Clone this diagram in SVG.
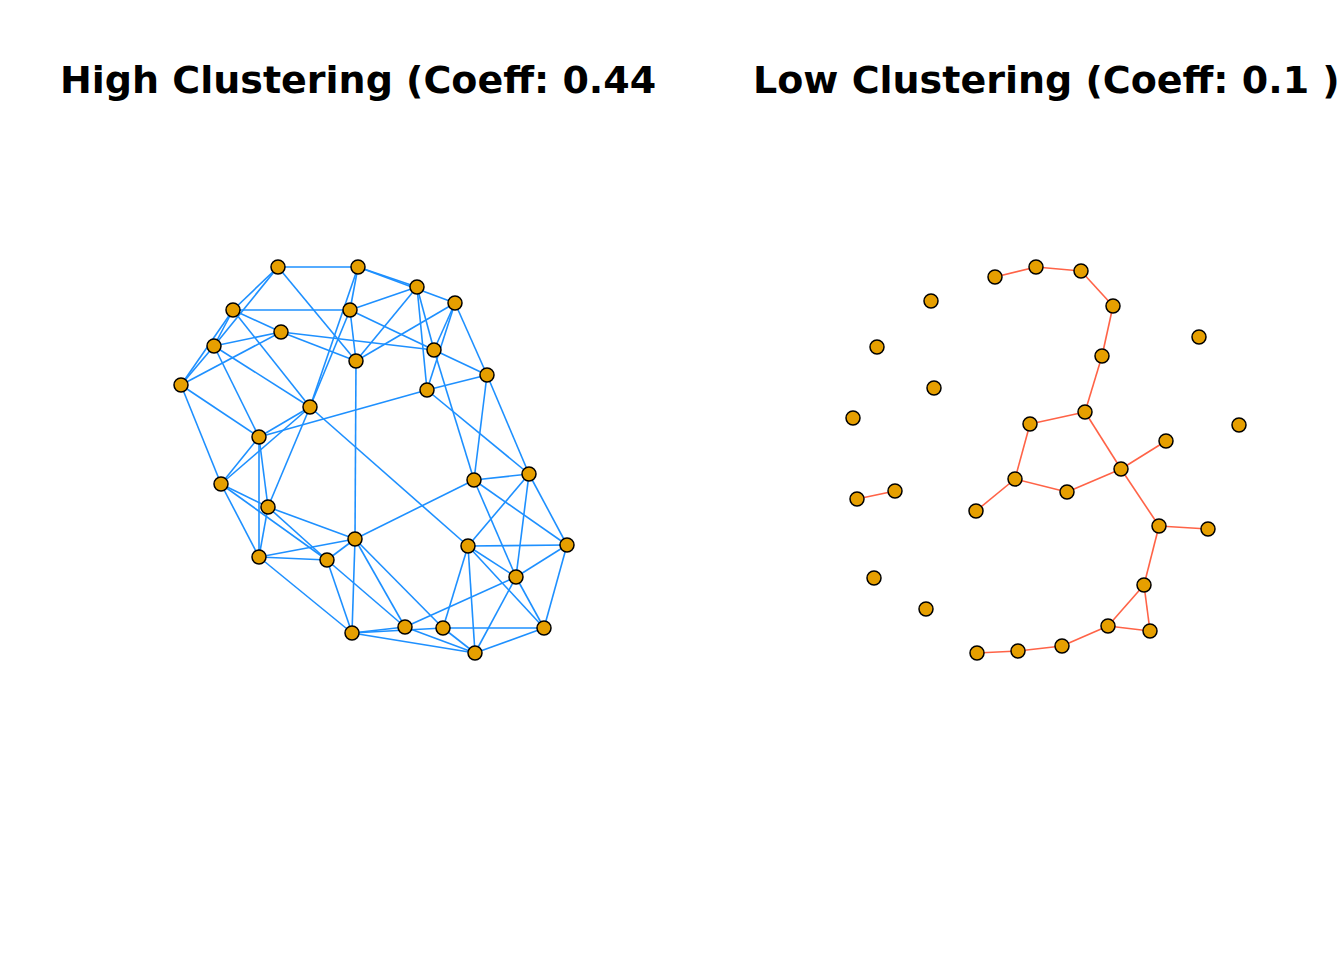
<svg xmlns="http://www.w3.org/2000/svg" width="1344" height="960" viewBox="0 0 1344 960">
<style>
.t{font-family:"DejaVu Sans",sans-serif;font-weight:bold;font-size:38px;fill:#000}
.eb line{stroke:#1E90FF;stroke-width:1.6}
.er line{stroke:#FF6347;stroke-width:1.6}
.n{fill:#E69F00;stroke:#000;stroke-width:1.5}
</style>
<rect width="1344" height="960" fill="#fff"/>
<text class="t" x="60" y="93">High Clustering (Coeff: 0.44</text>
<text class="t" x="753" y="93">Low Clustering (Coeff: 0.1 )</text>
<g id="connectors-high" class="eb">
<line x1="278" y1="267" x2="358" y2="267"/>
<line x1="278" y1="267" x2="233" y2="310"/>
<line x1="278" y1="267" x2="214" y2="346"/>
<line x1="278" y1="267" x2="356" y2="361"/>
<line x1="358" y1="267" x2="417" y2="287"/>
<line x1="358" y1="267" x2="455" y2="303"/>
<line x1="358" y1="267" x2="350" y2="310"/>
<line x1="358" y1="267" x2="310" y2="407"/>
<line x1="417" y1="287" x2="350" y2="310"/>
<line x1="417" y1="287" x2="356" y2="361"/>
<line x1="417" y1="287" x2="434" y2="350"/>
<line x1="417" y1="287" x2="427" y2="390"/>
<line x1="455" y1="303" x2="356" y2="361"/>
<line x1="455" y1="303" x2="434" y2="350"/>
<line x1="455" y1="303" x2="427" y2="390"/>
<line x1="455" y1="303" x2="487" y2="375"/>
<line x1="233" y1="310" x2="350" y2="310"/>
<line x1="233" y1="310" x2="281" y2="332"/>
<line x1="233" y1="310" x2="214" y2="346"/>
<line x1="233" y1="310" x2="181" y2="385"/>
<line x1="233" y1="310" x2="310" y2="407"/>
<line x1="350" y1="310" x2="356" y2="361"/>
<line x1="350" y1="310" x2="310" y2="407"/>
<line x1="350" y1="310" x2="434" y2="350"/>
<line x1="281" y1="332" x2="214" y2="346"/>
<line x1="281" y1="332" x2="181" y2="385"/>
<line x1="281" y1="332" x2="434" y2="350"/>
<line x1="281" y1="332" x2="356" y2="361"/>
<line x1="214" y1="346" x2="181" y2="385"/>
<line x1="214" y1="346" x2="310" y2="407"/>
<line x1="214" y1="346" x2="259" y2="437"/>
<line x1="434" y1="350" x2="487" y2="375"/>
<line x1="434" y1="350" x2="474" y2="480"/>
<line x1="356" y1="361" x2="355" y2="539"/>
<line x1="181" y1="385" x2="259" y2="437"/>
<line x1="181" y1="385" x2="221" y2="484"/>
<line x1="487" y1="375" x2="427" y2="390"/>
<line x1="487" y1="375" x2="474" y2="480"/>
<line x1="487" y1="375" x2="529" y2="474"/>
<line x1="427" y1="390" x2="259" y2="437"/>
<line x1="427" y1="390" x2="529" y2="474"/>
<line x1="310" y1="407" x2="259" y2="437"/>
<line x1="310" y1="407" x2="221" y2="484"/>
<line x1="310" y1="407" x2="268" y2="507"/>
<line x1="310" y1="407" x2="468" y2="546"/>
<line x1="259" y1="437" x2="221" y2="484"/>
<line x1="259" y1="437" x2="268" y2="507"/>
<line x1="259" y1="437" x2="259" y2="557"/>
<line x1="474" y1="480" x2="355" y2="539"/>
<line x1="474" y1="480" x2="529" y2="474"/>
<line x1="474" y1="480" x2="516" y2="577"/>
<line x1="474" y1="480" x2="567" y2="545"/>
<line x1="529" y1="474" x2="468" y2="546"/>
<line x1="529" y1="474" x2="516" y2="577"/>
<line x1="529" y1="474" x2="567" y2="545"/>
<line x1="221" y1="484" x2="268" y2="507"/>
<line x1="221" y1="484" x2="259" y2="557"/>
<line x1="221" y1="484" x2="327" y2="560"/>
<line x1="268" y1="507" x2="355" y2="539"/>
<line x1="268" y1="507" x2="259" y2="557"/>
<line x1="268" y1="507" x2="327" y2="560"/>
<line x1="355" y1="539" x2="259" y2="557"/>
<line x1="355" y1="539" x2="327" y2="560"/>
<line x1="355" y1="539" x2="352" y2="633"/>
<line x1="355" y1="539" x2="405" y2="627"/>
<line x1="355" y1="539" x2="443" y2="628"/>
<line x1="259" y1="557" x2="327" y2="560"/>
<line x1="259" y1="557" x2="352" y2="633"/>
<line x1="327" y1="560" x2="352" y2="633"/>
<line x1="327" y1="560" x2="405" y2="627"/>
<line x1="468" y1="546" x2="567" y2="545"/>
<line x1="468" y1="546" x2="516" y2="577"/>
<line x1="468" y1="546" x2="443" y2="628"/>
<line x1="468" y1="546" x2="544" y2="628"/>
<line x1="468" y1="546" x2="475" y2="653"/>
<line x1="567" y1="545" x2="516" y2="577"/>
<line x1="567" y1="545" x2="544" y2="628"/>
<line x1="516" y1="577" x2="405" y2="627"/>
<line x1="516" y1="577" x2="544" y2="628"/>
<line x1="516" y1="577" x2="475" y2="653"/>
<line x1="352" y1="633" x2="405" y2="627"/>
<line x1="352" y1="633" x2="443" y2="628"/>
<line x1="352" y1="633" x2="475" y2="653"/>
<line x1="405" y1="627" x2="475" y2="653"/>
<line x1="443" y1="628" x2="475" y2="653"/>
<line x1="443" y1="628" x2="544" y2="628"/>
<line x1="544" y1="628" x2="475" y2="653"/>
</g>
<g id="connectors-low" class="er">
<line x1="995" y1="277" x2="1036" y2="267"/>
<line x1="1036" y1="267" x2="1081" y2="271"/>
<line x1="1081" y1="271" x2="1113" y2="306"/>
<line x1="1113" y1="306" x2="1102" y2="356"/>
<line x1="1102" y1="356" x2="1085" y2="412"/>
<line x1="1085" y1="412" x2="1030" y2="424"/>
<line x1="1085" y1="412" x2="1121" y2="469"/>
<line x1="1030" y1="424" x2="1015" y2="479"/>
<line x1="1015" y1="479" x2="1067" y2="492"/>
<line x1="1015" y1="479" x2="976" y2="511"/>
<line x1="1067" y1="492" x2="1121" y2="469"/>
<line x1="1121" y1="469" x2="1166" y2="441"/>
<line x1="1121" y1="469" x2="1159" y2="526"/>
<line x1="1159" y1="526" x2="1208" y2="529"/>
<line x1="1159" y1="526" x2="1144" y2="585"/>
<line x1="1144" y1="585" x2="1108" y2="626"/>
<line x1="1144" y1="585" x2="1150" y2="631"/>
<line x1="1108" y1="626" x2="1150" y2="631"/>
<line x1="1108" y1="626" x2="1062" y2="646"/>
<line x1="1062" y1="646" x2="1018" y2="651"/>
<line x1="1018" y1="651" x2="977" y2="653"/>
<line x1="857" y1="499" x2="895" y2="491"/>
</g>
<g id="nodes-high">
<g id="h1"><circle class="n" cx="278" cy="267" r="7"/></g>
<g id="h2"><circle class="n" cx="358" cy="267" r="7"/></g>
<g id="h3"><circle class="n" cx="417" cy="287" r="7"/></g>
<g id="h4"><circle class="n" cx="455" cy="303" r="7"/></g>
<g id="h5"><circle class="n" cx="233" cy="310" r="7"/></g>
<g id="h6"><circle class="n" cx="350" cy="310" r="7"/></g>
<g id="h7"><circle class="n" cx="281" cy="332" r="7"/></g>
<g id="h8"><circle class="n" cx="214" cy="346" r="7"/></g>
<g id="h9"><circle class="n" cx="434" cy="350" r="7"/></g>
<g id="h10"><circle class="n" cx="356" cy="361" r="7"/></g>
<g id="h11"><circle class="n" cx="181" cy="385" r="7"/></g>
<g id="h12"><circle class="n" cx="487" cy="375" r="7"/></g>
<g id="h13"><circle class="n" cx="427" cy="390" r="7"/></g>
<g id="h14"><circle class="n" cx="310" cy="407" r="7"/></g>
<g id="h15"><circle class="n" cx="259" cy="437" r="7"/></g>
<g id="h16"><circle class="n" cx="474" cy="480" r="7"/></g>
<g id="h17"><circle class="n" cx="529" cy="474" r="7"/></g>
<g id="h18"><circle class="n" cx="221" cy="484" r="7"/></g>
<g id="h19"><circle class="n" cx="268" cy="507" r="7"/></g>
<g id="h20"><circle class="n" cx="355" cy="539" r="7"/></g>
<g id="h21"><circle class="n" cx="259" cy="557" r="7"/></g>
<g id="h22"><circle class="n" cx="327" cy="560" r="7"/></g>
<g id="h23"><circle class="n" cx="468" cy="546" r="7"/></g>
<g id="h24"><circle class="n" cx="567" cy="545" r="7"/></g>
<g id="h25"><circle class="n" cx="516" cy="577" r="7"/></g>
<g id="h26"><circle class="n" cx="352" cy="633" r="7"/></g>
<g id="h27"><circle class="n" cx="405" cy="627" r="7"/></g>
<g id="h28"><circle class="n" cx="443" cy="628" r="7"/></g>
<g id="h29"><circle class="n" cx="544" cy="628" r="7"/></g>
<g id="h30"><circle class="n" cx="475" cy="653" r="7"/></g>
</g>
<g id="nodes-low">
<g id="l1"><circle class="n" cx="995" cy="277" r="7"/></g>
<g id="l2"><circle class="n" cx="1036" cy="267" r="7"/></g>
<g id="l3"><circle class="n" cx="1081" cy="271" r="7"/></g>
<g id="l4"><circle class="n" cx="931" cy="301" r="7"/></g>
<g id="l5"><circle class="n" cx="1113" cy="306" r="7"/></g>
<g id="l6"><circle class="n" cx="877" cy="347" r="7"/></g>
<g id="l7"><circle class="n" cx="1199" cy="337" r="7"/></g>
<g id="l8"><circle class="n" cx="1102" cy="356" r="7"/></g>
<g id="l9"><circle class="n" cx="934" cy="388" r="7"/></g>
<g id="l10"><circle class="n" cx="853" cy="418" r="7"/></g>
<g id="l11"><circle class="n" cx="1085" cy="412" r="7"/></g>
<g id="l12"><circle class="n" cx="1030" cy="424" r="7"/></g>
<g id="l13"><circle class="n" cx="1239" cy="425" r="7"/></g>
<g id="l14"><circle class="n" cx="1166" cy="441" r="7"/></g>
<g id="l15"><circle class="n" cx="1121" cy="469" r="7"/></g>
<g id="l16"><circle class="n" cx="1015" cy="479" r="7"/></g>
<g id="l17"><circle class="n" cx="1067" cy="492" r="7"/></g>
<g id="l18"><circle class="n" cx="857" cy="499" r="7"/></g>
<g id="l19"><circle class="n" cx="895" cy="491" r="7"/></g>
<g id="l20"><circle class="n" cx="976" cy="511" r="7"/></g>
<g id="l21"><circle class="n" cx="1159" cy="526" r="7"/></g>
<g id="l22"><circle class="n" cx="1208" cy="529" r="7"/></g>
<g id="l23"><circle class="n" cx="874" cy="578" r="7"/></g>
<g id="l24"><circle class="n" cx="1144" cy="585" r="7"/></g>
<g id="l25"><circle class="n" cx="926" cy="609" r="7"/></g>
<g id="l26"><circle class="n" cx="1108" cy="626" r="7"/></g>
<g id="l27"><circle class="n" cx="1150" cy="631" r="7"/></g>
<g id="l28"><circle class="n" cx="977" cy="653" r="7"/></g>
<g id="l29"><circle class="n" cx="1018" cy="651" r="7"/></g>
<g id="l30"><circle class="n" cx="1062" cy="646" r="7"/></g>
</g>
</svg>
